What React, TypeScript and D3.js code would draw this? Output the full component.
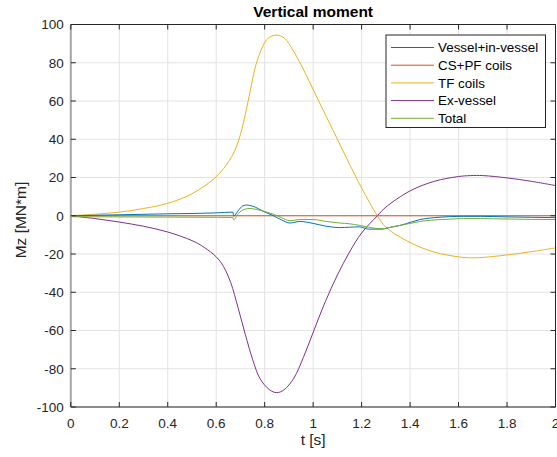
import React from "react";
import * as d3 from "d3";

const xTicks = [0, 0.2, 0.4, 0.6, 0.8, 1, 1.2, 1.4, 1.6, 1.8, 2];
const yTicks = [-100, -80, -60, -40, -20, 0, 20, 40, 60, 80, 100];

const seriesNames = ["Vessel+in-vessel", "CS+PF coils", "TF coils", "Ex-vessel", "Total"];
const seriesColors = ["#0072BD", "#D95319", "#EDB120", "#7E2F8E", "#77AC30"];

const vesselT = [0, 0.2, 0.4, 0.6, 0.669, 0.672, 0.69, 0.71, 0.725, 0.75, 0.8, 0.836, 0.87, 0.904, 0.945, 1.0, 1.055, 1.11, 1.15, 1.19, 1.23, 1.28, 1.32, 1.36, 1.4, 1.44, 1.5, 1.56, 1.62, 1.69, 1.8, 1.9, 2.0];
const vesselV = [0, 0.5, 1.0, 1.5, 1.9, -0.2, 2.5, 5.2, 5.6, 5.0, 2.0, 0, -2.2, -3.8, -3.0, -4.0, -5.5, -6.2, -6.0, -5.8, -7.0, -7.0, -6.0, -5.0, -3.5, -2.0, -1.0, -0.5, -0.3, -0.3, -0.6, -0.8, -1.0];

const cspfT = [0, 0.5, 1.0, 1.5, 2.0];
const cspfV = [0, 0, 0, 0, 0];

const tfT = [0, 0.1, 0.2, 0.3, 0.4, 0.5, 0.6, 0.655, 0.68, 0.7, 0.72, 0.74, 0.76, 0.78, 0.8, 0.82, 0.85, 0.88, 0.9, 0.95, 1.0, 1.05, 1.1, 1.15, 1.2, 1.265, 1.3, 1.4, 1.5, 1.6, 1.65, 1.7, 1.8, 1.9, 2.0];
const tfV = [0, 0.8, 1.9, 3.8, 6.5, 11.5, 20.4, 29, 35, 42.5, 53, 65, 77, 85, 90.5, 93.3, 94.5, 93, 90, 79, 66, 53, 40, 27, 14.5, 0, -6, -14, -19, -21.5, -22, -21.8, -20.5, -18.8, -16.8];

const exT = [0, 0.1, 0.2, 0.3, 0.4, 0.5, 0.55, 0.6, 0.63, 0.66, 0.69, 0.72, 0.75, 0.78, 0.82, 0.85, 0.88, 0.92, 0.96, 1.0, 1.05, 1.1, 1.15, 1.2, 1.265, 1.3, 1.4, 1.5, 1.6, 1.65, 1.7, 1.8, 1.9, 2.0];
const exV = [0, -1.5, -3.3, -5.5, -8.5, -13, -16.5, -21.5, -26.5, -35, -48, -62, -75, -85, -91, -92.5, -91, -85, -74, -61, -45, -31, -19, -9, 0, 4.5, 13, 18, 20.5, 21, 21, 19.8, 18, 15.8];

const totalT = [0, 0.2, 0.4, 0.6, 0.669, 0.672, 0.69, 0.72, 0.74, 0.77, 0.8, 0.836, 0.87, 0.904, 0.945, 1.0, 1.055, 1.11, 1.15, 1.19, 1.23, 1.28, 1.32, 1.36, 1.4, 1.44, 1.5, 1.56, 1.62, 1.69, 1.8, 1.9, 2.0];
const totalV = [-0.5, -0.6, -0.7, -0.8, -0.9, -2.2, 1.0, 3.5, 3.8, 3.2, 2.2, 0.8, -1.0, -2.6, -2.0, -2.0, -3.0, -3.8, -4.2, -5.0, -6.0, -6.8, -6.0, -5.0, -4.0, -3.0, -2.2, -1.8, -1.5, -1.5, -1.7, -1.9, -2.0];

const allT = [vesselT, cspfT, tfT, exT, totalT];
const allV = [vesselV, cspfV, tfV, exV, totalV];

export default function App() {
  const W = 557, H = 457;
  const L = 70.8, R = 555.5, T = 24.5, B = 407;
  const x = d3.scaleLinear().domain([0, 2]).range([L, R]);
  const y = d3.scaleLinear().domain([-100, 100]).range([B, T]);
  const font = "'Liberation Sans', Arial, Helvetica, sans-serif";
  const axisColor = "#262626";

  const order = [3, 2, 1, 0, 4];
  const smooth = [false, false, true, true, false];

  return (
    <svg width={W} height={H} style={{ position: "absolute", left: 0, top: 0, background: "#fff" }}>
      <rect x={0} y={0} width={W} height={H} fill="#fff" />
      {xTicks.map((t) => (
        <line key={"gx" + t} x1={x(t)} x2={x(t)} y1={T} y2={B} stroke="#e3e3e3" strokeWidth={1} />
      ))}
      {yTicks.map((v) => (
        <line key={"gy" + v} x1={L} x2={R} y1={y(v)} y2={y(v)} stroke="#e3e3e3" strokeWidth={1} />
      ))}
      <defs>
        <clipPath id="clip">
          <rect x={L} y={T} width={R - L} height={B - T} />
        </clipPath>
      </defs>
      <g clipPath="url(#clip)">
        {order.map((i) => {
          const pts: [number, number][] = allT[i].map((t, k) => [t, allV[i][k]]);
          const line = d3
            .line<[number, number]>()
            .x((d) => x(d[0]))
            .y((d) => y(d[1]))
            .curve(smooth[i] ? d3.curveCatmullRom.alpha(0.5) : d3.curveMonotoneX);
          return <path key={i} d={line(pts) || ""} fill="none" stroke={seriesColors[i]} strokeWidth={1} />;
        })}
      </g>
      <line x1={L} x2={R} y1={T} y2={T} stroke={axisColor} strokeWidth={1} />
      <line x1={R} x2={R} y1={T} y2={B} stroke={axisColor} strokeWidth={1} />
      <line x1={L} x2={R} y1={B} y2={B} stroke={axisColor} strokeWidth={1} />
      <line x1={L} x2={L} y1={T} y2={B} stroke="#a6a6a6" strokeWidth={2} />
      {xTicks.map((t) => (
        <g key={"tx" + t}>
          <line x1={x(t)} x2={x(t)} y1={B} y2={B - 5} stroke={axisColor} />
          <line x1={x(t)} x2={x(t)} y1={T} y2={T + 5} stroke={axisColor} />
          <text x={x(t)} y={B + 21} textAnchor="middle" fontSize={13.5} fontFamily={font} fill={axisColor}>
            {String(t)}
          </text>
        </g>
      ))}
      {yTicks.map((v) => (
        <g key={"ty" + v}>
          <line x1={L} x2={L + 5} y1={y(v)} y2={y(v)} stroke={axisColor} />
          <line x1={R} x2={R - 5} y1={y(v)} y2={y(v)} stroke={axisColor} />
          <text x={L - 7} y={y(v) + 4.8} textAnchor="end" fontSize={13.5} fontFamily={font} fill={axisColor}>
            {String(v)}
          </text>
        </g>
      ))}
      <text x={(L + R) / 2} y={445} textAnchor="middle" fontSize={15.5} fontFamily={font} fill={axisColor}>
        t [s]
      </text>
      <text
        transform={`translate(26, 220) rotate(-90)`}
        textAnchor="middle"
        fontSize={15.5}
        fontFamily={font}
        fill={axisColor}
      >
        Mz [MN*m]
      </text>
      <text x={(L + R) / 2} y={17} textAnchor="middle" fontSize={15.5} fontWeight="bold" fontFamily={font} fill="#000">
        Vertical moment
      </text>
      <rect x={386} y={35} width={159.5} height={92.5} fill="#fff" stroke={axisColor} strokeWidth={1} />
      {seriesNames.map((n, i) => (
        <g key={n}>
          <line x1={391} x2={434} y1={47.5 + i * 17.7} y2={47.5 + i * 17.7} stroke={seriesColors[i]} strokeWidth={1} />
          <text x={438} y={47.5 + i * 17.7 + 4.8} fontSize={13.4} fontFamily={font} fill="#000">
            {n}
          </text>
        </g>
      ))}
    </svg>
  );
}
